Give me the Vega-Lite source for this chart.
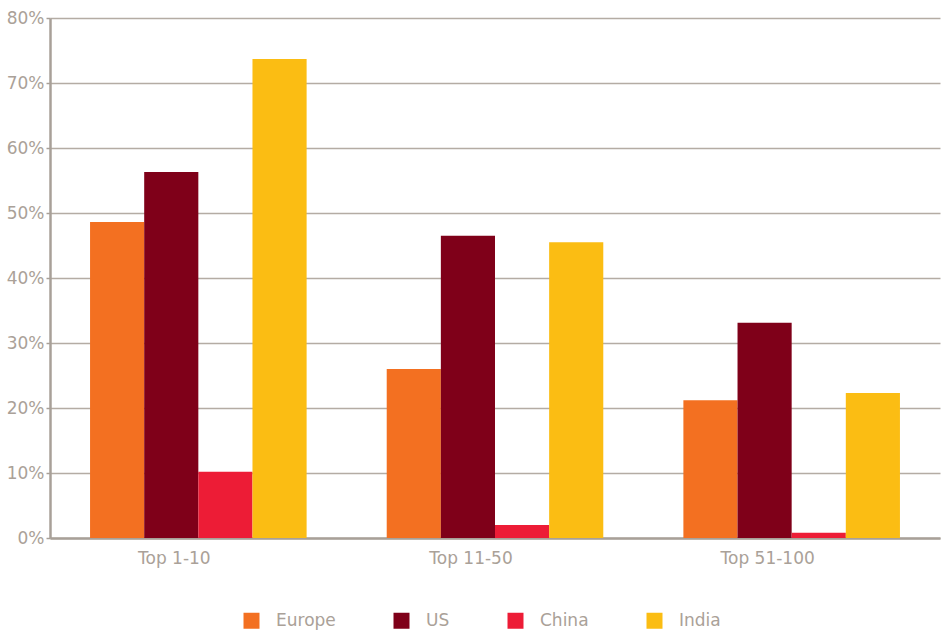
{
  "$schema": "https://vega.github.io/schema/vega-lite/v6.json",
  "autosize": {"type": "none"},
  "width": 890,
  "height": 520,
  "padding": {"left": 50, "top": 18, "right": 4, "bottom": 95},
  "background": "white",
  "data": {
    "values": [
      {"tier": "Top 1-10", "region": "Europe", "share": 48.6},
      {"tier": "Top 1-10", "region": "US", "share": 56.3},
      {"tier": "Top 1-10", "region": "China", "share": 10.2},
      {"tier": "Top 1-10", "region": "India", "share": 73.7},
      {"tier": "Top 11-50", "region": "Europe", "share": 26.0},
      {"tier": "Top 11-50", "region": "US", "share": 46.5},
      {"tier": "Top 11-50", "region": "China", "share": 2.0},
      {"tier": "Top 11-50", "region": "India", "share": 45.5},
      {"tier": "Top 51-100", "region": "Europe", "share": 21.2},
      {"tier": "Top 51-100", "region": "US", "share": 33.1},
      {"tier": "Top 51-100", "region": "China", "share": 0.8},
      {"tier": "Top 51-100", "region": "India", "share": 22.3}
    ]
  },
  "mark": {"type": "bar"},
  "encoding": {
    "x": {
      "field": "tier", "type": "nominal", "sort": null,
      "scale": {"paddingInner": 0.27, "paddingOuter": 0.135},
      "axis": {"title": null, "labelAngle": 0, "ticks": false, "domainColor": "#a8a098", "domainWidth": 2.5, "labelPadding": 12, "labelOffset": -24}
    },
    "xOffset": {"field": "region", "type": "nominal", "sort": ["Europe", "US", "China", "India"], "scale": {"paddingInner": 0, "paddingOuter": 0}},
    "y": {
      "field": "share", "type": "quantitative",
      "scale": {"domain": [0, 80]},
      "axis": {"title": null, "values": [0, 10, 20, 30, 40, 50, 60, 70, 80], "labelExpr": "datum.value + '%'", "tickSize": 4, "tickColor": "#a8a098", "tickWidth": 1.5, "domainColor": "#a8a098", "domainWidth": 2.5, "gridColor": "#b4aca4", "gridWidth": 1.5, "labelPadding": 2}
    },
    "color": {
      "field": "region", "type": "nominal", "sort": ["Europe", "US", "China", "India"],
      "scale": {"domain": ["Europe", "US", "China", "India"], "range": ["#F37021", "#7F0019", "#ED1C36", "#FBBD13"]},
      "legend": {"title": null, "orient": "none", "direction": "horizontal", "legendX": 193, "legendY": 594, "symbolType": "square", "symbolSize": 256, "symbolStrokeWidth": 0, "symbolOpacity": 1, "labelOffset": 16, "columnPadding": 57, "labelFontSize": 17, "labelColor": "#aaa198", "labelFont": "DejaVu Sans"}
    }
  },
  "config": {
    "view": {"stroke": null},
    "axis": {"labelFont": "DejaVu Sans", "labelFontSize": 17, "labelColor": "#aaa198"}
  }
}
